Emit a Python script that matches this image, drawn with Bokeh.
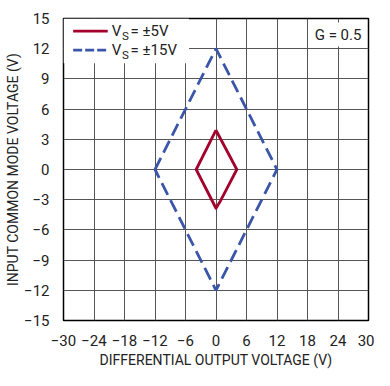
from bokeh.plotting import figure
from bokeh.models import Label, FixedTicker
from bokeh.embed import file_html
from bokeh.resources import INLINE

# Data
vs5_x = [0, 4.1, 0.9, 0, -3.9, 0]
vs5_y = [3.9, 0, -3.1, -3.85, 0, 3.9]
vs15_x = [-12, 0, 12, 0, -12]
vs15_y = [0, 12, 0, -12, 0]
x_ticks = [-30, -24, -18, -12, -6, 0, 6, 12, 18, 24, 30]
y_ticks = [-15, -12, -9, -6, -3, 0, 3, 6, 9, 12, 15]
legend_labels = ["= \u00b15V", "= \u00b115V"]

RED = "#a3002c"
BLUE = "#3b56a8"
FONT = "Roboto"
TXT = "#222222"

p = figure(width=374, height=370, x_range=(-30, 30), y_range=(-15, 15),
           output_backend="svg", toolbar_location=None,
           min_border_left=63, min_border_right=6, min_border_top=18, min_border_bottom=48)

p.outline_line_color = "black"
p.outline_line_width = 1.5
p.background_fill_color = "white"
p.border_fill_color = "white"

p.xaxis.ticker = FixedTicker(ticks=x_ticks)
p.yaxis.ticker = FixedTicker(ticks=y_ticks)
p.xaxis.major_label_overrides = {t: str(t).replace("-", "\u2212") for t in x_ticks}
p.yaxis.major_label_overrides = {t: str(t).replace("-", "\u2212") for t in y_ticks}
for ax in (p.xaxis, p.yaxis):
    ax.axis_line_color = None
    ax.major_tick_line_color = None
    ax.minor_tick_line_color = None
    ax.major_label_text_font = FONT
    ax.major_label_text_font_size = "15px"
    ax.major_label_text_color = TXT
    ax.axis_label_text_font = FONT
    ax.axis_label_text_font_size = "14px"
    ax.axis_label_text_font_style = "normal"
    ax.axis_label_text_color = TXT
p.xaxis.major_label_standoff = 8
p.yaxis.major_label_standoff = 8
p.xaxis.axis_label = "DIFFERENTIAL OUTPUT VOLTAGE (V)"
p.yaxis.axis_label = "INPUT COMMON MODE VOLTAGE (V)"
p.xaxis.axis_label_standoff = 3
p.yaxis.axis_label_standoff = 0

p.grid.grid_line_color = "#555555"
p.grid.grid_line_width = 1
p.grid.grid_line_alpha = 1

# legend background box (layout element)
p.quad(left=[-30], right=[-5.3], top=[15], bottom=[10.55], fill_color="white", line_color=None)

p.line(vs15_x, vs15_y, color=BLUE, line_width=2.8, line_dash="13 6")
p.line(vs5_x, vs5_y, color=RED, line_width=2.8, line_join="round")

# manual legend
leg_y = [13.75, 11.85]
p.segment(x0=[-28.1], y0=[leg_y[0]], x1=[-21.3], y1=[leg_y[0]], color=RED, line_width=2.8)
p.segment(x0=[-28.1], y0=[leg_y[1]], x1=[-21.3], y1=[leg_y[1]], color=BLUE, line_width=2.8, line_dash="9 3")
for yy, lab in zip(leg_y, legend_labels):
    p.add_layout(Label(x=-20.5, y=yy, text="V", text_font=FONT, text_font_size="15px",
                       text_baseline="middle", text_color=TXT))
    p.add_layout(Label(x=-18.5, y=yy - 0.45, text="S", text_font=FONT, text_font_size="11.5px",
                       text_baseline="middle", text_color=TXT))
    p.add_layout(Label(x=-16.8, y=yy, text=lab, text_font=FONT, text_font_size="15px",
                       text_baseline="middle", text_color=TXT))

p.add_layout(Label(x=29.2, y=13.4, text="G = 0.5", text_font=FONT, text_font_size="15px",
                   text_align="right", text_baseline="middle", text_color=TXT,
                   background_fill_color="white", padding=3))

open("out.html", "w").write(file_html(p, INLINE))
